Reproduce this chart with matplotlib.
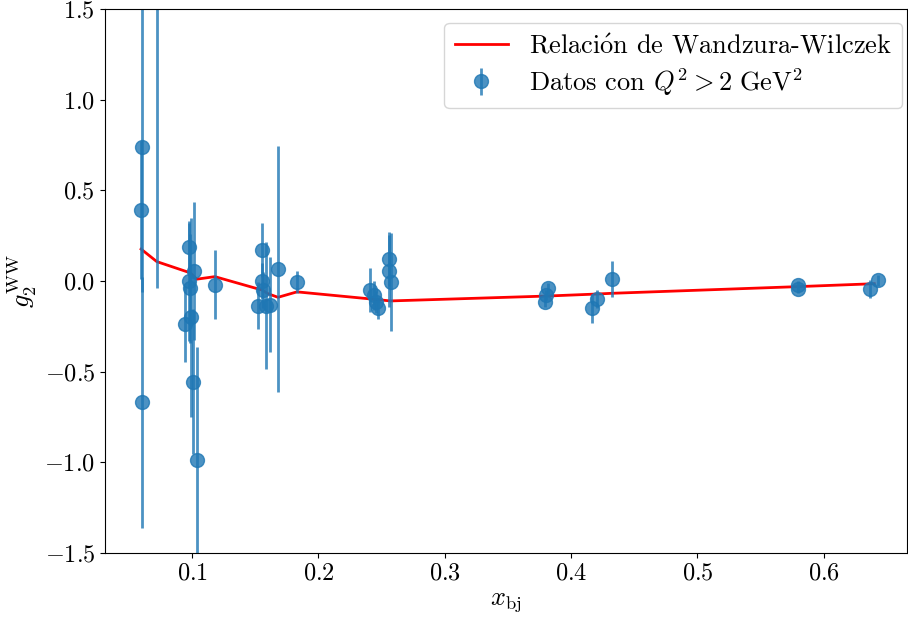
import numpy as np
import matplotlib
matplotlib.use("Agg")
import matplotlib.pyplot as plt

plt.rcParams["font.family"] = ["cmr10", "DejaVu Serif"]
plt.rcParams["mathtext.fontset"] = "cm"
plt.rcParams["axes.formatter.use_mathtext"] = True
plt.rcParams["axes.unicode_minus"] = True

# Data points (x_bj, g2, error)
x_data = [0.0604, 0.0596, 0.0604, 0.0720, 0.0976, 0.1016, 0.0976, 0.0985,
          0.0945, 0.0990, 0.1010, 0.1042, 0.1180,
          0.1554, 0.1554, 0.1562, 0.1520, 0.1586, 0.1618, 0.1680, 0.1830,
          0.2412, 0.2436, 0.2452, 0.2468, 0.2560, 0.2560, 0.2576,
          0.3819, 0.3801, 0.3793, 0.4167, 0.4207, 0.4320,
          0.5798, 0.5798, 0.6370, 0.6429]
g2_data = [0.74, 0.39, -0.67, 1.75, 0.19, 0.057, 0.0, -0.04,
           -0.235, -0.20, -0.555, -0.985, -0.02,
           0.17, 0.0, -0.05, -0.136, -0.136, -0.13, 0.066, -0.005,
           -0.05, -0.08, -0.115, -0.15, 0.12, 0.055, -0.005,
           -0.04, -0.077, -0.115, -0.15, -0.10, 0.01,
           -0.02, -0.045, -0.045, 0.005]
g2_err = [0.80, 0.38, 0.69, 1.79, 0.13, 0.38, 0.33, 0.30,
          0.21, 0.55, 0.40, 0.62, 0.19,
          0.15, 0.10, 0.10, 0.13, 0.35, 0.26, 0.68, 0.06,
          0.12, 0.08, 0.06, 0.06, 0.15, 0.20, 0.27,
          0.03, 0.03, 0.03, 0.08, 0.05, 0.10,
          0.02, 0.02, 0.05, 0.03]

# Wandzura-Wilczek curve
x_ww = [0.0596, 0.0720, 0.0985, 0.1037, 0.1180, 0.1554, 0.1600, 0.1680,
        0.1830, 0.2412, 0.2570, 0.3810, 0.4200, 0.4320, 0.5800, 0.6400]
g2_ww = [0.176, 0.107, 0.045, 0.010, 0.024, -0.050, -0.070, -0.090,
         -0.060, -0.099, -0.110, -0.083, -0.072, -0.068, -0.031, -0.015]

fig, ax = plt.subplots(figsize=(9.08, 6.22), dpi=100)
fig.subplots_adjust(left=0.1156, right=0.999, top=0.9855, bottom=0.111)

ax.plot(x_ww, g2_ww, color="red", lw=2,
        label=r"Relaci$\mathrm{\acute{o}}$n de Wandzura-Wilczek")
ax.errorbar(x_data, g2_data, yerr=g2_err, fmt="o", color="C0", alpha=0.8,
            markersize=10, elinewidth=2, label=r"Datos con $Q^2 > 2\ \mathrm{GeV}^2$")

ax.set_xlim(0.031, 0.666)
ax.set_ylim(-1.5, 1.5)
ax.set_xlabel(r"$x_{\rm bj}$", fontsize=19)
ax.set_ylabel(r"$g_2^{\rm WW}$", fontsize=19)
ax.tick_params(labelsize=17.5)
ax.legend(loc="upper right", fontsize=19, bbox_to_anchor=(0.994, 0.974),
          borderaxespad=0, labelspacing=0.3)

fig.savefig("out.png", dpi=100)
